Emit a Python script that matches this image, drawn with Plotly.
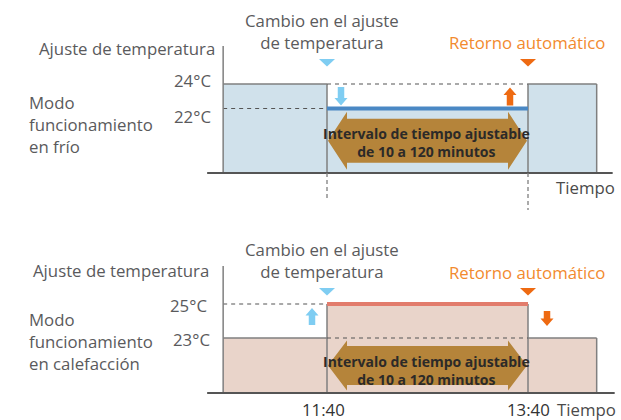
import plotly.graph_objects as go

W, H = 621, 420

# ---------------- data ----------------
time_labels = ["11:40", "13:40"]
time_minutes = [700, 820]          # change time, automatic return time
window_start = 638                 # start of the drawn time window (minutes)
window_end = 861                   # end of the drawn setpoint block (minutes)
cool_setpoints = [24, 22]          # original, temporarily changed (cooling)
heat_setpoints = [23, 25]          # original, temporarily changed (heating)
cool_labels = ["24°C", "22°C"]
heat_labels = ["25°C", "23°C"]

# ---------------- scales (layout) ----------------
XS = 201 / 120.0                   # px per minute
X0PX = 327                         # pixel of 11:40
x_range = [time_minutes[0] - X0PX / XS, time_minutes[0] + (W - X0PX) / XS]

TOP_S = 12.25                      # px per °C (top)
BOT_S = 17.0                       # px per °C (bottom)
top_range = [24 - (210 - 84) / TOP_S, 24 + 84 / TOP_S]
bot_range = [25 - (420 - 304) / BOT_S, 25 + (304 - 210) / BOT_S]

top_floor = 24 - (173 - 84) / TOP_S
top_axtop = 24 + (84 - 46) / TOP_S
bot_floor = 25 - (393 - 304) / BOT_S
bot_axtop = 25 + (304 - 266) / BOT_S

t_c, t_r = time_minutes

GRAY = "#7f7f7f"
DGRAY = "#555555"
TXT = "#5a5a5c"
BLUE_FILL = "#d0e1eb"
PINK_FILL = "#e9d4ca"
BLUE_LINE = "#4a88c4"
RED_LINE = "#e27c6c"
LBLUE = "#7fcdf2"
ORANGE = "#ee6a12"
ORANGE_TXT = "#f28a2e"
BROWN = "#b5843a"

def dx(p):
    return p / XS

shapes = []

def line(x0, y0, x1, y1, ref, color, width, dash=None):
    d = dict(type="line", xref=ref[0], yref=ref[1], x0=x0, y0=y0, x1=x1, y1=y1,
             line=dict(color=color, width=width))
    if dash:
        d["line"]["dash"] = dash
    shapes.append(d)

def rect(x0, y0, x1, y1, ref, fill):
    shapes.append(dict(type="rect", xref=ref[0], yref=ref[1], x0=x0, y0=y0, x1=x1, y1=y1,
                       fillcolor=fill, line=dict(width=0), layer="below"))

def poly(pts, ref, fill):
    path = "M " + " L ".join(f"{x},{y}" for x, y in pts) + " Z"
    shapes.append(dict(type="path", xref=ref[0], yref=ref[1], path=path,
                       fillcolor=fill, line=dict(width=0)))

def block_arrow(xc, y_tail, y_tip, ys, ref, color, sw=6.5, hw=13, hl=7.5):
    sgn = 1 if y_tip > y_tail else -1
    yb = y_tip - sgn * hl / ys
    pts = [(xc - dx(sw / 2), y_tail), (xc - dx(sw / 2), yb), (xc - dx(hw / 2), yb),
           (xc, y_tip), (xc + dx(hw / 2), yb), (xc + dx(sw / 2), yb), (xc + dx(sw / 2), y_tail)]
    poly(pts, ref, color)

def tri_down(xc, ytop, ys, ref, color, w=16, h=7.5):
    poly([(xc - dx(w / 2), ytop), (xc + dx(w / 2), ytop), (xc, ytop - h / ys)], ref, color)

def double_arrow(x0, x1, yc, ys, ref, body_h, head_h, head_l):
    pts = [(x0, yc), (x0 + dx(head_l), yc + head_h / ys), (x0 + dx(head_l), yc + body_h / ys),
           (x1 - dx(head_l), yc + body_h / ys), (x1 - dx(head_l), yc + head_h / ys), (x1, yc),
           (x1 - dx(head_l), yc - head_h / ys), (x1 - dx(head_l), yc - body_h / ys),
           (x0 + dx(head_l), yc - body_h / ys), (x0 + dx(head_l), yc - head_h / ys)]
    poly(pts, ref, BROWN)

# ---------------- top panel (cooling) ----------------
R1 = ("x", "y")
base, chg = cool_setpoints
rect(window_start, top_floor, t_c, base, R1, BLUE_FILL)
rect(t_c, top_floor, t_r, chg, R1, BLUE_FILL)
rect(t_r, top_floor, window_end, base, R1, BLUE_FILL)
line(window_start, base, t_c, base, R1, GRAY, 1.5)
line(t_c, top_floor, t_c, base, R1, GRAY, 1.5)
line(t_r, top_floor, t_r, base, R1, GRAY, 1.5)
line(t_r, base, window_end, base, R1, GRAY, 1.5)
line(window_end, top_floor, window_end, base, R1, GRAY, 1.5)
line(window_start, chg, t_c, chg, R1, DGRAY, 1.1, "4px,4px")
line(t_c, base, t_r, base, R1, DGRAY, 1.1, "4px,4px")
line(t_c, chg, t_r, chg, R1, BLUE_LINE, 4)
line(window_start, top_floor, window_start, top_axtop, R1, GRAY, 1.5)
line(window_start - dx(16), top_floor, window_end + dx(16), top_floor, R1, DGRAY, 2)
line(t_c, top_floor, t_c, top_floor - 27 / TOP_S, R1, GRAY, 1.3, "4px,3px")
line(t_r, top_floor, t_r, top_floor - 40 / TOP_S, R1, GRAY, 1.3, "4px,3px")
block_arrow(t_c + dx(14), base - 3 / TOP_S, chg + 3 / TOP_S, TOP_S, R1, LBLUE)
block_arrow(t_r - dx(18), chg + 3 / TOP_S, base - 3.5 / TOP_S, TOP_S, R1, ORANGE)
tri_down(t_c, base + 25 / TOP_S, TOP_S, R1, LBLUE)
tri_down(t_r, base + 25 / TOP_S, TOP_S, R1, ORANGE)
double_arrow(t_c + dx(1), t_r - dx(1), (top_floor + chg) / 2, TOP_S, R1, 22, 29, 19)

# ---------------- bottom panel (heating) ----------------
R2 = ("x2", "y2")
base, chg = heat_setpoints
rect(window_start, bot_floor, t_c, base, R2, PINK_FILL)
rect(t_c, bot_floor, t_r, chg, R2, PINK_FILL)
rect(t_r, bot_floor, window_end, base, R2, PINK_FILL)
line(window_start, base, t_c, base, R2, GRAY, 1.5)
line(t_c, bot_floor, t_c, chg, R2, GRAY, 1.5)
line(t_r, bot_floor, t_r, chg, R2, GRAY, 1.5)
line(t_r, base, window_end, base, R2, GRAY, 1.5)
line(window_end, bot_floor, window_end, base, R2, GRAY, 1.5)
line(window_start, chg, t_c, chg, R2, DGRAY, 1.1, "4px,4px")
line(t_c, base, t_r, base, R2, DGRAY, 1.1, "4px,4px")
line(t_c, chg, t_r, chg, R2, RED_LINE, 4)
line(window_start, bot_floor, window_start, bot_axtop, R2, GRAY, 1.5)
line(window_start - dx(16), bot_floor, window_end + dx(18), bot_floor, R2, DGRAY, 2)
block_arrow(t_c - dx(15), base + 13 / BOT_S, chg - 4 / BOT_S, BOT_S, R2, LBLUE)
block_arrow(t_r + dx(19), chg - 7 / BOT_S, base + 12 / BOT_S, BOT_S, R2, ORANGE)
tri_down(t_c, chg + 16 / BOT_S, BOT_S, R2, LBLUE)
tri_down(t_r, chg + 16 / BOT_S, BOT_S, R2, ORANGE)
double_arrow(t_c + dx(1), t_r - dx(1), (bot_floor + base) / 2, BOT_S, R2, 19.5, 25, 19)

# ---------------- text ----------------
FONT = "Open Sans"
ann = []

def txt(s, px, py, xanchor="center", color=TXT, size=16.8, bold=False, align=None):
    ann.append(dict(text=f"<b>{s}</b>" if bold else s, x=px / W, y=1 - py / H,
                    xref="paper", yref="paper", xanchor=xanchor, yanchor="middle",
                    align=align or ("left" if xanchor == "left" else
                                    "right" if xanchor == "right" else "center"),
                    showarrow=False, font=dict(family=FONT, size=size, color=color)))

BS = 14
BC = "#2c2a28"
# top panel text
txt("Ajuste de temperatura", 217, 48, "right")
txt(cool_labels[0], 213, 81, "right")
txt(cool_labels[1], 213, 116, "right")
txt("Modo<br>funcionamiento<br>en frío", 27, 124, "left")
txt("Cambio en el ajuste<br>de temperatura", 322, 31.5)
txt("Retorno automático", 527, 43, color=ORANGE_TXT)
txt("Tiempo", 554, 188, "left", color="#4a4a4a")
txt("Intervalo de tiempo ajustable<br>de 10 a 120 minutos", 427, 142, size=BS, bold=True, color=BC)

# bottom panel text
txt("Ajuste de temperatura", 211, 270, "right")
txt(heat_labels[0], 209, 305, "right")
txt(heat_labels[1], 212, 339, "right")
txt("Modo<br>funcionamiento<br>en calefacción", 27, 341.5, "left")
txt("Cambio en el ajuste<br>de temperatura", 322, 260)
txt("Retorno automático", 527, 272, color=ORANGE_TXT)
txt("Tiempo", 555, 409, "left", color="#4a4a4a")
txt("Intervalo de tiempo ajustable<br>de 10 a 120 minutos", 427, 370.5, size=BS, bold=True, color=BC)
txt(time_labels[0], 323, 409, color="#333333")
txt(time_labels[1], 528, 409, color="#333333")

fig = go.Figure()
fig.add_trace(go.Scatter(x=time_minutes, y=cool_setpoints, mode="markers",
                         marker=dict(opacity=0), hoverinfo="skip", xaxis="x", yaxis="y"))
fig.add_trace(go.Scatter(x=time_minutes, y=heat_setpoints, mode="markers",
                         marker=dict(opacity=0), hoverinfo="skip", xaxis="x2", yaxis="y2"))

ax = dict(visible=False, fixedrange=True)
fig.update_layout(
    width=W, height=H, margin=dict(l=0, r=0, t=0, b=0),
    paper_bgcolor="white", plot_bgcolor="white", showlegend=False,
    xaxis=dict(ax, range=x_range, domain=[0, 1], anchor="y"),
    yaxis=dict(ax, range=top_range, domain=[0.5, 1], anchor="x"),
    xaxis2=dict(ax, range=x_range, domain=[0, 1], anchor="y2"),
    yaxis2=dict(ax, range=bot_range, domain=[0, 0.5], anchor="x2"),
    shapes=shapes, annotations=ann,
)
fig.write_html("out.html", config={"displayModeBar": False},
               post_script="document.body.style.margin='0';document.body.style.overflow='hidden';")
